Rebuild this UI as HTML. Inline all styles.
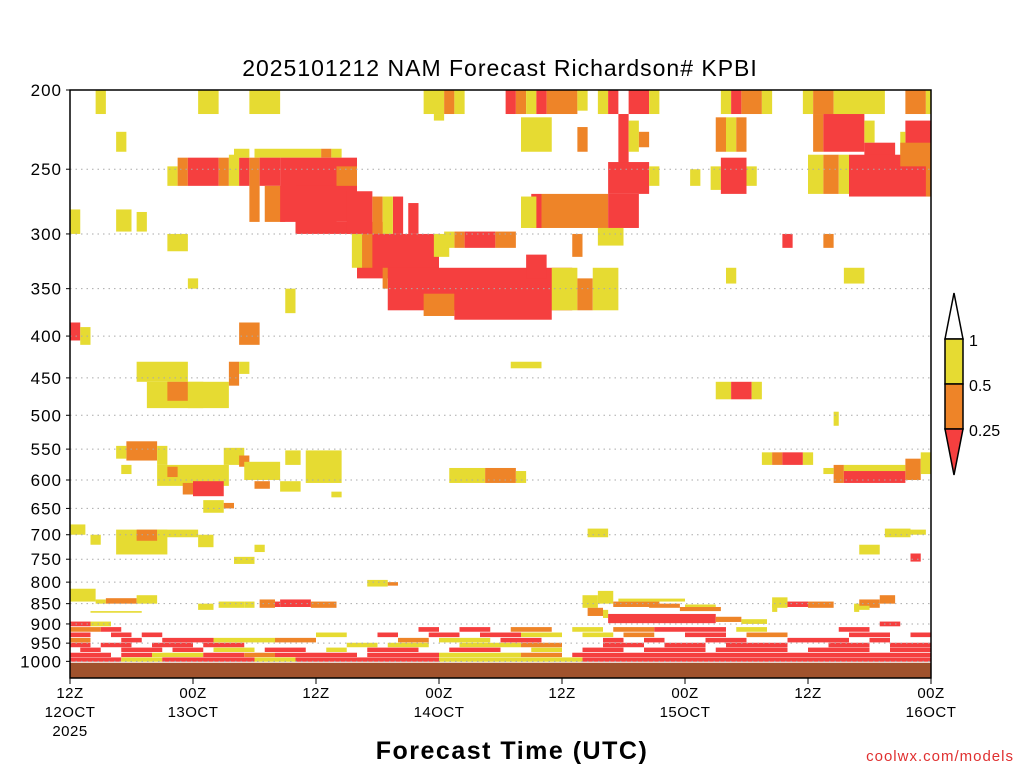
<!DOCTYPE html>
<html><head><meta charset="utf-8"><style>
html,body{margin:0;padding:0;background:#fff;width:1024px;height:768px;overflow:hidden}
svg text{font-family:"Liberation Sans",sans-serif}
</style></head><body>
<svg id="chart" width="1024" height="768" viewBox="0 0 1024 768" xmlns="http://www.w3.org/2000/svg">
<text x="500" y="76" font-size="23" text-anchor="middle" letter-spacing="1">2025101212 NAM Forecast Richardson# KPBI</text>
<g id="cells"></g>
<g id="grid"></g>
<rect x="70" y="90" width="861" height="588" fill="none" stroke="#000" stroke-width="1.5"/>
<g id="yaxis"></g>
<g id="xaxis"></g>
<text x="512" y="759" font-size="25" font-weight="bold" text-anchor="middle" letter-spacing="1.5">Forecast Time (UTC)</text>
<text x="1014" y="761" font-size="15" fill="#e03030" text-anchor="end" letter-spacing="1">coolwx.com/models</text>
<g stroke="#000" stroke-width="1.5">
<polygon points="945,339 954,293 963,339" fill="#fff"/>
<rect x="945" y="339" width="18" height="45" fill="#e6db32"/>
<rect x="945" y="384" width="18" height="45" fill="#ee8428"/>
<polygon points="945,429 963,429 954,475" fill="#f53f3f"/>
</g>
<text x="969" y="346" font-size="16">1</text>
<text x="969" y="391" font-size="16">0.5</text>
<text x="969" y="436" font-size="16">0.25</text>
</svg>
<script>
const pressureTicks=[200,250,300,350,400,450,500,550,600,650,700,750,800,850,900,950,1000];
const timeTicks=[0,12,24,36,48,60,72,84];
const timeLabels=["12Z","00Z","12Z","00Z","12Z","00Z","12Z","00Z"];
const dateLabels=["12OCT","13OCT","","14OCT","","15OCT","","16OCT"];
const catColors=["#e6db32","#ee8428","#f53f3f","#a0522d"];
// [hourStart, hourEnd, pressureTop, pressureBottom, category]
const upperCells=[
[2.5,3.5,200,214,0],[12.5,14.5,200,214,0],[17.5,20.5,200,214,0],[4.5,5.5,225,238,0],
[34.5,36.5,200,214,0],[36.5,37.5,200,214,1],[37.5,38.5,200,214,0],[35.5,36.5,214,218,0],
[42.5,43.5,200,214,2],[43.5,44.5,200,214,1],[44.5,45.5,200,214,0],[45.5,46.5,200,214,2],[46.5,49.5,200,214,1],[49.5,50.5,200,212,0],
[51.5,52.5,200,214,0],[52.5,53.5,200,214,2],[54.5,56.5,200,214,2],[56.5,57.5,200,214,0],
[63.5,64.5,200,214,0],[64.5,65.5,200,214,2],[65.5,67.5,200,214,1],[67.5,68.5,200,214,0],
[71.5,72.5,200,214,0],[72.5,74.5,200,214,1],[74.5,79.5,200,214,0],[81.5,83.5,200,214,1],[83.5,84,200,214,0],
[44,47,216,238,0],[49.5,50.5,222,238,1],[53.5,54.5,214,250,2],[54.5,55.5,218,238,0],[55.5,56.5,225,235,1],
[63,64,216,238,1],[64,65,216,238,0],[65,66,216,238,1],[72.5,73.5,214,238,1],[73.5,77.5,214,238,2],[77.5,78.5,218,232,0],
[81.5,84,218,238,2],[81,81.5,225,240,0],[77.5,80.5,232,248,2],
[9.5,10.5,248,262,0],[10.5,11.5,242,262,1],[11.5,14.5,242,262,2],[14.5,15.5,242,262,1],[15.5,16.5,240,262,0],[16.5,17.5,242,262,2],
[16,17.5,236,242,0],[18,24.5,236,242,0],[24.5,25.5,236,242,1],[25.5,26.5,236,242,0],
[17.5,18.5,242,290,1],[18.5,20.5,242,262,2],[19,21,262,290,1],[20.5,28,242,290,2],[22,26,262,300,2],[26,28,248,262,1],
[26,31,290,300,2],[27,29.5,266,300,2],[29.5,30.5,270,300,1],[31.5,32.5,270,300,2],[33,34,275,300,2],[30.5,31.5,270,300,0],
[28,36,300,340,2],[28.5,29.5,300,330,1],[27.5,28.5,300,330,0],[35.5,37,300,320,0],
[31,49,330,372,2],[30.5,31,330,350,1],[44.5,46.5,318,340,2],
[34.5,37.5,355,378,1],[37.5,47,350,382,2],[47,49.5,330,372,0],[49.5,51,340,372,1],[51,53.5,330,372,0],
[37.5,38.5,298,312,1],[38.5,41.5,298,312,2],[41.5,43.5,298,312,1],[36.5,37.5,298,312,0],
[45,46,268,295,2],[46,52.5,268,295,1],[52.5,55.5,268,295,2],[44,45.5,270,295,0],[51.5,54,295,310,0],[49,50,300,320,1],
[52.5,56.5,245,268,2],[56.5,57.5,248,262,0],[60.5,61.5,250,262,0],[62.5,63.5,248,265,0],[63.5,66,242,268,2],[66,67,248,262,0],
[72,73.5,240,268,0],[73.5,75,240,268,1],[75,76,240,268,0],[76,84,240,270,2],[81,84,232,248,1],[83.5,84,240,270,1],
[69.5,70.5,300,312,2],[73.5,74.5,300,312,1],[75.5,77.5,330,345,0],[64,65,330,345,0],[0,1,280,300,0],
[4.5,6,280,298,0],[6.5,7.5,282,298,0],[9.5,11.5,300,315,0],[11.5,12.5,340,350,0],
[21,22,350,375,0],[0,1,385,405,2],[1,2,390,410,0],[16.5,18.5,385,410,1],
[6.5,11.5,430,455,0],[7.5,13,455,490,0],[9.5,11.5,455,480,1],[11.5,15.5,455,490,0],[15.5,16.5,430,460,1],[16.5,17.5,430,445,0],
[63,64.5,455,478,0],[64.5,66.5,455,478,2],[66.5,67.5,455,478,0],[43,46,430,438,0],[74.5,75,495,515,0],
[5.5,8.5,538,568,1],[4.5,5.5,545,565,0],[8.5,9.5,545,575,0],[8.5,15.5,575,610,0],[9.5,10.5,578,595,1],[5,6,575,590,0],
[15,17,548,575,0],[16.5,17.5,560,578,1],[17,20.5,570,600,0],[21,22.5,552,575,0],[23,26.5,552,605,0],[25.5,26.5,620,630,0],
[11,12,605,625,1],[12,15,602,628,2],[18,19.5,602,615,1],[20.5,22.5,602,620,0],[13,15,635,658,0],[15,16,640,650,1],
[37,40.5,580,605,0],[40.5,43.5,580,605,1],[43.5,44.5,585,605,0],
[67.5,68.5,555,575,0],[68.5,69.5,555,575,1],[69.5,71.5,555,575,2],[71.5,72.5,555,575,0],
[74.5,75.5,575,605,1],[75.5,81.5,585,605,2],[75.5,81.5,575,585,0],[81.5,83,565,600,1],[83,84,555,590,0],[73.5,74.5,580,590,0],
[0,1.5,680,700,0],[2,3,700,720,0],[4.5,9.5,690,740,0],[6.5,8.5,690,712,1],[8.5,12.5,690,705,0],[12.5,14,700,725,0],[16,18,745,760,0],[18,19,720,735,0],
[50.5,52.5,688,705,0],[79.5,82,688,705,0],[77,79,720,740,0],[82,83,738,755,2],[82,83.5,690,700,0],
[0,2.5,815,845,0],[2.5,3.5,840,850,0],[3.5,6.5,837,850,1],[6.5,8.5,830,850,0],[19,20.5,845,858,2],[20.5,23.5,840,858,2],[18.5,20,840,860,1],[23.5,26,845,860,1],[17,18,845,860,0],
[29,31,795,810,0],[31,32,800,808,1],[12.5,14,850,865,0],[14.5,17,845,860,0],[2,7,868,872,0],
[50,51.5,830,860,0],[51.5,53,820,850,0],[53,57.5,845,858,1],[56.5,59.5,850,860,1],[59.5,63.5,858,868,1],[53.5,60,838,845,0],[60,63,852,858,0],
[50.5,52,860,880,1],[52,52.5,865,885,0],[52.5,63,875,898,2],[56,60.5,880,892,2],[63,65.5,882,895,1],[65.5,68,888,900,0],
[68.5,70,835,860,0],[70,72,845,858,2],[72,74.5,845,860,1],[68.5,69,850,870,0],[76.5,77,850,870,0],[77,79,840,860,1],[79,80.5,830,850,1],[76.5,78,855,865,0]
];
// [hourStart, hourEnd, pressureCenter, category]
const lowerCells=[
[0,5,995,2],[5,9,995,0],[9,18,995,2],[18,22,995,0],[22,36,995,2],[36,50,995,0],[50,84,995,2],
[0,4,982,2],[5,8,982,2],[8,13,982,0],[13,17,982,2],[17,20,982,1],[20,28,982,2],[29,36,982,2],[36,44,982,0],[44,48,982,1],[49,84,982,2],
[1,3,968,2],[5,9,968,2],[10,13,968,2],[14,18,968,0],[19,23,968,2],[25,27,968,0],[29,34,968,2],[37,42,968,2],[45,48,968,0],[50,54,968,2],[56,62,968,2],[63,70,968,2],[72,78,968,2],[80,84,968,2],
[0,2,955,2],[3,6,955,2],[8,12,955,2],[13,17,955,2],[27,30,955,0],[31,35,955,0],[38,44,955,0],[44,48,955,1],[52,56,955,2],[58,62,955,2],[64,70,955,2],[74,78,955,2],[80,84,955,2],
[0,2,942,1],[5,7,942,2],[9,14,942,2],[14,20,942,0],[20,24,942,1],[32,35,942,1],[36,41,942,0],[42,46,942,2],[52,54,942,2],[56,58,942,2],[62,66,942,2],[70,76,942,2],[78,80,942,2],
[0,2,928,2],[4,6,928,2],[7,9,928,2],[24,27,928,0],[30,32,928,2],[35,38,928,2],[40,44,928,2],[44,48,928,0],[50,53,928,0],[54,57,928,1],[60,64,928,2],[66,70,928,1],[76,80,928,2],[82,84,928,2],
[0,3,914,1],[3,5,914,2],[34,36,914,2],[38,41,914,2],[43,47,914,1],[49,52,914,0],[53,57,914,1],[57,64,914,2],[65,68,914,0],[75,78,914,2],
[0,2,900,2],[2,4,900,0],[79,81,900,2]
];
const groundCells=[[0,84,1004,1048,3]];

const X0=70,X1=931,H=84,Y0=90,PX=355;
const xScale=h=>X0+(h/H)*(X1-X0);
const yScale=p=>Y0+PX*Math.log(p/200);
const NS="http://www.w3.org/2000/svg";
const cellsG=document.getElementById('cells');
function addRect(h0,h1,pt,pb,c){
  const r=document.createElementNS(NS,'rect');
  
  
  const x0=xScale(h0),x1=xScale(h1),y0=yScale(pt),y1=yScale(Math.min(pb,1048));
  r.setAttribute('x',x0);r.setAttribute('y',y0);
  r.setAttribute('width',Math.max(0,x1-x0));r.setAttribute('height',Math.max(0,y1-y0));
  r.setAttribute('fill',catColors[c]);
  cellsG.appendChild(r);
}
upperCells.forEach(d=>addRect(d[0],d[1],d[2],d[3],d[4]));
lowerCells.forEach(d=>addRect(d[0],d[1],d[2]-6,d[2]+6,d[3]));
groundCells.forEach(d=>addRect(d[0],d[1],d[2],d[3],d[4]));

const gridG=document.getElementById('grid'),yG=document.getElementById('yaxis'),xG=document.getElementById('xaxis');
pressureTicks.forEach(p=>{
  const y=yScale(p);
  if(p>200){
  const l=document.createElementNS(NS,'line');
  
  
  l.setAttribute('x1',X0);l.setAttribute('x2',X1);l.setAttribute('y1',y);l.setAttribute('y2',y);
  l.setAttribute('stroke','#aaa');l.setAttribute('stroke-dasharray','1.5,4');
  gridG.appendChild(l);}
  const t=document.createElementNS(NS,'text');
  
  
  t.setAttribute('x',62);t.setAttribute('y',y+6);t.setAttribute('font-size','17');
  t.setAttribute('text-anchor','end');t.setAttribute('letter-spacing','1');
  t.textContent=p;yG.appendChild(t);
  const tk=document.createElementNS(NS,'line');
  
  
  tk.setAttribute('x1',X0-4);tk.setAttribute('x2',X0);tk.setAttribute('y1',y);tk.setAttribute('y2',y);tk.setAttribute('stroke','#000');
  yG.appendChild(tk);
});
timeTicks.forEach((h,i)=>{
  const x=xScale(h);
  const tk=document.createElementNS(NS,'line');
  
  
  tk.setAttribute('x1',x);tk.setAttribute('x2',x);tk.setAttribute('y1',678);tk.setAttribute('y2',684);tk.setAttribute('stroke','#000');
  xG.appendChild(tk);
  const lines=[timeLabels[i],dateLabels[i]];if(i===0)lines.push("2025");
  lines.forEach((s,j)=>{if(!s)return;
    const t=document.createElementNS(NS,'text');
    
    
    t.setAttribute('x',x);t.setAttribute('y',698+j*19);t.setAttribute('font-size','15');
    t.setAttribute('text-anchor','middle');t.setAttribute('letter-spacing','0.5');
    t.textContent=s;xG.appendChild(t);});
});
</script>
</body></html>
